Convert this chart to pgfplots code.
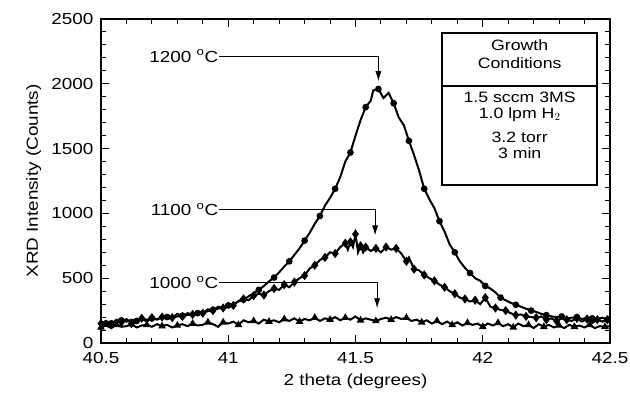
\documentclass[border=0pt]{standalone}
\usepackage{fontspec}
\setmainfont{Liberation Sans}[FakeStretch=1.18]
\usepackage{pgfplots}
\pgfplotsset{compat=1.18}
\usetikzlibrary{arrows.meta}

\pgfplotstableread{
x y
40.50 160
40.52 150
40.54 170
40.56 155
40.58 175
40.60 165
40.62 180
40.64 170
40.66 185
40.68 180
40.70 190
40.72 185
40.74 195
40.76 200
40.78 195
40.80 205
40.82 210
40.84 215
40.86 220
40.88 230
40.90 235
40.92 245
40.94 255
40.96 265
40.98 275
41.00 290
41.02 300
41.04 320
41.06 335
41.08 360
41.10 385
41.12 410
41.14 440
41.16 475
41.18 505
41.20 545
41.22 590
41.24 630
41.26 680
41.28 730
41.30 790
41.32 850
41.34 920
41.36 980
41.38 1060
41.40 1120
41.42 1190
41.44 1280
41.46 1400
41.48 1470
41.50 1600
41.52 1720
41.54 1820
41.56 1870
41.57 1950
41.59 1960
41.61 1890
41.63 1930
41.65 1850
41.67 1740
41.69 1680
41.71 1560
41.73 1450
41.75 1330
41.77 1190
41.79 1110
41.81 1040
41.83 940
41.85 860
41.87 760
41.89 700
41.91 630
41.93 580
41.95 540
41.97 500
41.99 480
42.01 440
42.03 420
42.05 390
42.07 350
42.09 330
42.11 310
42.13 295
42.15 280
42.17 265
42.19 250
42.21 240
42.23 225
42.25 215
42.27 205
42.29 200
42.31 205
42.33 190
42.35 195
42.37 200
42.39 185
42.41 195
42.43 190
42.45 185
42.47 195
42.49 180
42.50 185
}\tabA

\pgfplotstableread{
x y
40.50 150
40.52 170
40.54 140
40.56 180
40.58 160
40.60 185
40.62 150
40.64 175
40.66 190
40.68 165
40.70 195
40.72 180
40.74 200
40.76 215
40.78 195
40.80 225
40.82 205
40.84 230
40.86 220
40.88 245
40.90 230
40.92 260
40.94 250
40.96 280
40.98 270
41.00 300
41.02 290
41.04 325
41.06 340
41.08 330
41.10 365
41.12 380
41.14 370
41.16 400
41.18 420
41.20 410
41.22 450
41.24 430
41.26 470
41.28 500
41.30 520
41.32 575
41.34 600
41.36 640
41.38 660
41.40 700
41.42 690
41.44 740
41.46 770
41.47 720
41.48 780
41.49 740
41.50 840
41.51 700
41.52 750
41.53 700
41.54 740
41.56 710
41.58 730
41.60 700
41.62 740
41.64 720
41.66 730
41.68 690
41.70 630
41.71 660
41.73 570
41.75 560
41.77 525
41.79 500
41.81 480
41.83 450
41.85 430
41.87 400
41.89 380
41.91 350
41.93 340
41.95 320
41.97 330
41.99 300
42.01 350
42.03 280
42.05 270
42.07 255
42.09 250
42.11 230
42.13 215
42.15 220
42.17 205
42.19 200
42.21 195
42.23 205
42.25 180
42.27 190
42.29 170
42.31 190
42.33 180
42.35 170
42.37 190
42.39 165
42.41 185
42.43 155
42.45 180
42.47 165
42.49 180
42.50 170
}\tabB

\pgfplotstableread{
x y
40.50 120
40.52 135
40.54 115
40.56 140
40.58 125
40.60 130
40.62 145
40.64 120
40.66 135
40.68 140
40.70 125
40.72 145
40.74 130
40.76 140
40.78 120
40.80 135
40.82 145
40.84 130
40.86 150
40.88 135
40.90 140
40.92 160
40.94 145
40.96 125
40.98 160
41.00 150
41.02 165
41.04 140
41.06 175
41.08 160
41.10 170
41.12 150
41.14 180
41.16 165
41.18 175
41.20 160
41.22 185
41.24 170
41.26 190
41.28 165
41.30 185
41.32 175
41.34 195
41.36 170
41.38 190
41.40 180
41.42 200
41.44 175
41.46 195
41.48 180
41.50 205
41.52 175
41.54 190
41.56 180
41.58 170
41.60 185
41.62 195
41.64 180
41.66 200
41.68 185
41.70 195
41.72 170
41.74 180
41.76 160
41.78 175
41.80 150
41.82 170
41.84 145
41.86 165
41.88 140
41.90 160
41.92 135
41.94 155
41.96 140
41.98 150
42.00 125
42.02 150
42.04 135
42.06 155
42.08 130
42.10 145
42.12 120
42.14 150
42.16 130
42.18 140
42.20 115
42.22 145
42.24 125
42.26 140
42.28 120
42.30 135
42.32 115
42.34 140
42.36 125
42.38 135
42.40 120
42.42 140
42.44 115
42.46 130
42.48 125
42.50 130
}\tabC

\begin{document}
\begin{tikzpicture}
\useasboundingbox (0,0) rectangle (630pt,398pt);
\begin{axis}[
  at={(101pt,55pt)}, anchor=south west,
  scale only axis, width=509pt, height=324pt,
  xmin=40.5, xmax=42.5, ymin=0, ymax=2500,
  xtick={40.5,41,41.5,42,42.5},
  xticklabels={40.5,41,41.5,42,42.5},
  ytick={0,500,1000,1500,2000,2500},
  yticklabels={0,500,1000,1500,2000,2500},
  minor x tick num=4, minor y tick num=4,
  tick align=inside,
  major tick length=8pt, minor tick length=5pt,
  axis line style={line width=1.5pt},
  every tick/.style={line width=1pt, black},
  tick label style={font=\fontsize{16}{19}\selectfont},
  xticklabel style={yshift=-6pt},
  yticklabel style={xshift=-4pt},
  xlabel={2 theta (degrees)},
  ylabel={XRD Intensity (Counts)},
  label style={font=\fontsize{16}{19}\selectfont},
  xlabel style={at={(axis description cs:0.5,-0.117)}, anchor=center},
  ylabel style={at={(axis description cs:-0.132,0.5)}, anchor=center},
]
\addplot[black, line width=2pt, mark=*, mark size=2.3pt, mark repeat=3, mark phase=2, mark options={solid}] table {\tabA};
\addplot[black, line width=2pt, mark=diamond*, mark size=3pt, mark repeat=2, mark options={solid}] table {\tabB};
\addplot[black, line width=2pt, mark=triangle*, mark size=2.5pt, mark repeat=3, mark options={solid}] table {\tabC};

% annotations
\node[anchor=east, font=\fontsize{16}{19}\selectfont, inner sep=1pt] at (axis cs:40.965,2215) {1200 \textsuperscript{o}C};
\draw[line width=0.8pt, -{Latex[length=10pt,width=6pt]}] (axis cs:40.965,2215) -| (axis cs:41.59,2020);
\node[anchor=east, font=\fontsize{16}{19}\selectfont, inner sep=1pt] at (axis cs:40.965,1032) {1100 \textsuperscript{o}C};
\draw[line width=0.8pt, -{Latex[length=10pt,width=6pt]}] (axis cs:40.965,1032) -| (axis cs:41.577,830);
\node[anchor=east, font=\fontsize{16}{19}\selectfont, inner sep=1pt] at (axis cs:40.965,467) {1000 \textsuperscript{o}C};
\draw[line width=0.8pt, -{Latex[length=10pt,width=6pt]}] (axis cs:40.965,467) -| (axis cs:41.585,268);

% box
\draw[line width=1.2pt, fill=white] (axis cs:41.84,1219) rectangle (axis cs:42.449,2392);
\draw[line width=2pt] (axis cs:41.84,1983) -- (axis cs:42.449,1983);
\begin{scope}[every node/.style={font=\fontsize{15}{18}\selectfont, anchor=center, inner sep=0pt}]
\node at (axis cs:42.145,2299) {Growth};
\node at (axis cs:42.145,2160) {Conditions};
\node at (axis cs:42.145,1893) {1.5 sccm 3MS};
\node at (axis cs:42.145,1762) {1.0 lpm H$_2$};
\node at (axis cs:42.145,1585) {3.2 torr};
\node at (axis cs:42.145,1466) {3 min};
\end{scope}
\end{axis}
\end{tikzpicture}
\end{document}
